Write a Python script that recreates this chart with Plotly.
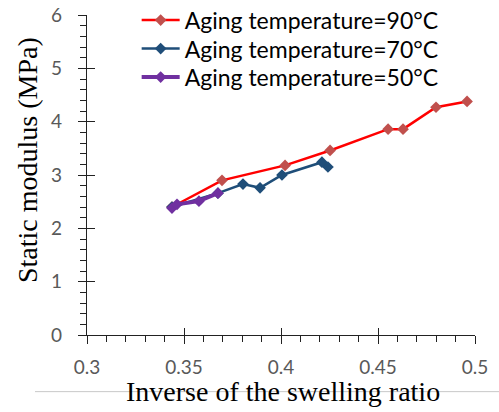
import plotly.graph_objects as go

x90 = [0.3438, 0.3696, 0.4021, 0.4253, 0.4552, 0.4629, 0.4799, 0.4959]
y90 = [2.40, 2.90, 3.18, 3.46, 3.86, 3.86, 4.27, 4.38]

x70 = [0.3438, 0.3675, 0.3804, 0.3892, 0.4005, 0.4211, 0.4242]
y70 = [2.40, 2.66, 2.83, 2.76, 3.00, 3.24, 3.15]

x50 = [0.3438, 0.3464, 0.3577, 0.3675]
y50 = [2.38, 2.45, 2.51, 2.66]

names = ["Aging temperature=90°C", "Aging temperature=70°C", "Aging temperature=50°C"]
x_ticks = [0.3, 0.35, 0.4, 0.45, 0.5]
x_tick_labels = ["0.3", "0.35", "0.4", "0.45", "0.5"]
y_ticks = [0, 1, 2, 3, 4, 5, 6]
x_title = "Inverse of the swelling ratio"
y_title = "Static modulus (MPa)"

fig = go.Figure()
fig.add_trace(go.Scatter(x=x90, y=y90, name=names[0], mode="lines+markers", legend="legend",
                         line=dict(color="#FF0000", width=2.5),
                         marker=dict(symbol="diamond", size=9, color="#C0504D")))
fig.add_trace(go.Scatter(x=x70, y=y70, name=names[1], mode="lines+markers", legend="legend2",
                         line=dict(color="#1F4E79", width=2.5),
                         marker=dict(symbol="diamond", size=9, color="#1F4E79")))
fig.add_trace(go.Scatter(x=x50, y=y50, name=names[2], mode="lines+markers", legend="legend3",
                         line=dict(color="#7030A0", width=4),
                         marker=dict(symbol="diamond", size=9, color="#7030A0")))
fig.add_trace(go.Scatter(x=[0.3], y=[0], xaxis="x2", yaxis="y2", showlegend=False,
                         mode="markers", marker=dict(opacity=0), hoverinfo="skip"))

tickfont = dict(family="Lato", size=19, color="#595959")
titlefont = dict(family="Liberation Serif", size=28, color="black")
legfont = dict(family="Lato", size=23, color="black")

def leg(y):
    return dict(x=0.128, y=y, xanchor="left", yanchor="middle",
                bgcolor="rgba(0,0,0,0)", font=legfont, itemwidth=38)

fig.update_layout(
    width=499, height=412,
    margin=dict(l=87, r=24, t=15, b=77, autoexpand=False),
    paper_bgcolor="white", plot_bgcolor="white",
    showlegend=True,
    legend=leg(0.984), legend2=leg(0.895), legend3=leg(0.806),
    xaxis=dict(range=[0.3, 0.5], tickvals=x_ticks, ticktext=x_tick_labels, automargin=False,
               ticks="outside", ticklen=8, tickwidth=1.3, tickcolor="#222",
               showline=True, linecolor="#222", linewidth=1.3, showgrid=False, zeroline=False,
               tickfont=tickfont, ticklabelstandoff=7, ticklabeloverflow="allow",
               minor=dict(dtick=0.01, ticks="outside", ticklen=6, tickwidth=1.3, tickcolor="#222", showgrid=False)),
    yaxis=dict(range=[0, 6], tickvals=y_ticks, automargin=False,
               ticks="outside", ticklen=8, tickwidth=1.3, tickcolor="#222",
               showline=True, linecolor="#222", linewidth=1.3, showgrid=False, zeroline=False,
               tickfont=tickfont, ticklabelstandoff=12, ticklabeloverflow="allow",
               minor=dict(dtick=0.2, ticks="outside", ticklen=6, tickwidth=1.3, tickcolor="#222", showgrid=False)),
    xaxis2=dict(range=[0.3, 0.5], tickvals=x_ticks, overlaying="x", anchor="y", automargin=False,
                ticks="inside", ticklen=7, tickwidth=1.3, tickcolor="#222",
                showticklabels=False, showgrid=False, zeroline=False, showline=False),
    yaxis2=dict(range=[0, 6], tickvals=y_ticks, overlaying="y", anchor="x", automargin=False,
                ticks="inside", ticklen=8, tickwidth=1.3, tickcolor="#222",
                showticklabels=False, showgrid=False, zeroline=False, showline=False),
    annotations=[
        dict(text=y_title, xref="paper", yref="paper", x=-0.152, y=0.547,
             xanchor="center", yanchor="middle", textangle=-90, showarrow=False, font=titlefont),
        dict(text=x_title, xref="paper", yref="paper", x=0.505, y=-0.178,
             xanchor="center", yanchor="middle", showarrow=False, font=titlefont),
    ],
    shapes=[dict(type="line", xref="paper", yref="paper", x0=-0.134, x1=1.07,
                 y0=-0.177, y1=-0.177, line=dict(color="#C8C8C8", width=1), layer="below")],
)
fig.write_html("out.html", config={"displayModeBar": False},
               post_script="document.body.style.margin='0';")
